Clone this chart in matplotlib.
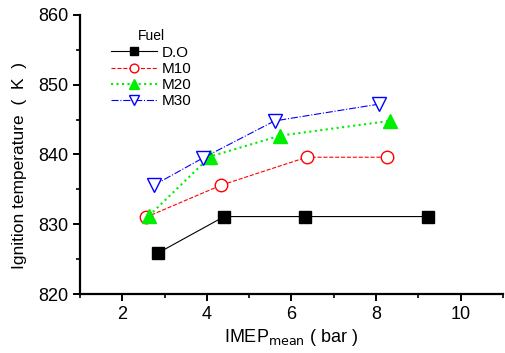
import matplotlib
matplotlib.use('Agg')
from matplotlib import pyplot as plt
from matplotlib.ticker import MultipleLocator

plt.rcParams['font.family'] = ['Liberation Sans', 'DejaVu Sans']

# IMEP mean (bar) and ignition temperature (K) per fuel
do_x = [2.85, 4.41, 6.31, 9.22]
do_y = [825.9, 831.1, 831.1, 831.1]
m10_x = [2.56, 4.34, 6.36, 8.25]
m10_y = [831.0, 835.6, 839.6, 839.6]
m20_x = [2.63, 4.08, 5.74, 8.32]
m20_y = [831.2, 839.7, 842.7, 844.8]
m30_x = [2.75, 3.91, 5.60, 8.06]
m30_y = [835.6, 839.5, 844.8, 847.2]

fig = plt.figure(figsize=(5.06, 3.53), dpi=100)
ax = fig.add_axes([0.158, 0.167, 0.836, 0.791])

ax.plot(do_x, do_y, '-', color='black', lw=0.8, marker='s', ms=8,
        mfc='black', mec='black', label='D.O')
ax.plot(m10_x, m10_y, '--', color='red', lw=0.8, marker='o', ms=9,
        mfc='white', mec='red', label='M10')
ax.plot(m20_x, m20_y, ':', color='#00ee00', lw=1.5, marker='^', ms=10,
        mfc='#00ee00', mec='#00ee00', label='M20')
ax.plot(m30_x, m30_y, '-.', color='blue', lw=0.8, marker='v', ms=10,
        mfc='white', mec='blue', label='M30')

ax.set_xlim(1, 11)
ax.set_ylim(820, 860)
ax.xaxis.set_major_locator(MultipleLocator(2))
ax.xaxis.set_minor_locator(MultipleLocator(1))
ax.yaxis.set_major_locator(MultipleLocator(10))
ax.yaxis.set_minor_locator(MultipleLocator(5))
ax.set_xticks([2, 4, 6, 8, 10])

for s in ['top', 'right']:
    ax.spines[s].set_visible(False)
for s in ['left', 'bottom']:
    ax.spines[s].set_linewidth(1.6)
ax.tick_params(which='major', direction='out', length=5, width=1.4, labelsize=13)
ax.tick_params(which='minor', direction='out', length=3, width=1.2)

ax.set_xlabel('IMEP$_{\\mathrm{mean}}$ ( bar )', fontsize=13, labelpad=3)
ax.set_ylabel('Ignition temperature  (  K  )', fontsize=12.5)
ax.yaxis.set_label_coords(-0.125, 0.46)

leg = ax.legend(title='Fuel', loc='upper left', bbox_to_anchor=(0.06, 0.97),
                frameon=False, fontsize=11, title_fontsize=10, markerscale=0.7,
                handlelength=3, labelspacing=0.15, borderaxespad=0, handletextpad=0.3)

fig.savefig('out.png')
